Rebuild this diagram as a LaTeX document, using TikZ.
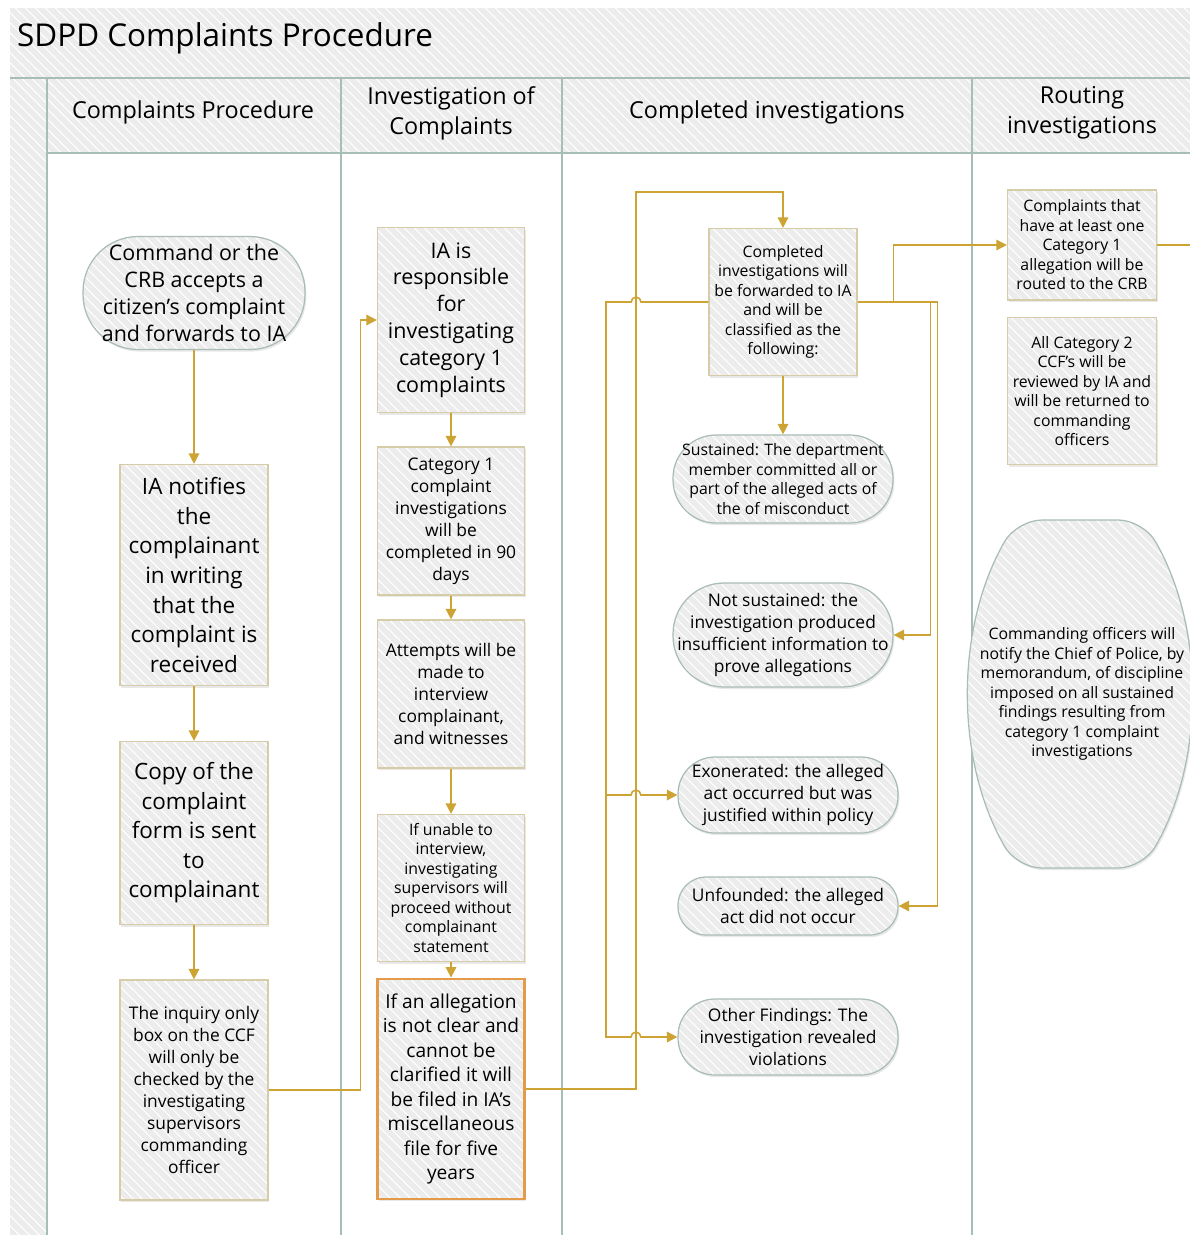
\documentclass[tikz,border=0pt]{standalone}
\usepackage{fontspec}
\setmainfont{Open Sans}
\usetikzlibrary{arrows.meta,shadows,patterns.meta}

\definecolor{flowgold}{HTML}{CDA434}
\definecolor{boxedge}{HTML}{D6CCA8}
\definecolor{ovaledge}{HTML}{A9BCB5}
\definecolor{lanegray}{HTML}{A7BDB7}
\definecolor{cellfill}{HTML}{ECECEC}
\definecolor{alertedge}{HTML}{E39B4B}

\tikzset{
  hatch/.style={preaction={fill=cellfill},
    pattern={Lines[angle=-45,distance=4pt,line width=0.6pt]}, pattern color=white},
  shade/.style={drop shadow={opacity=0.18,shadow xshift=0.8pt,shadow yshift=-1.2pt}},
  box/.style={shade, hatch, draw=boxedge, line width=0.7pt, align=center, inner sep=1pt},
  oval/.style={shade, hatch, draw=ovaledge, line width=0.7pt, rounded corners=#1,
    align=center, inner sep=0pt},
  flow/.style={draw=flowgold, line width=0.9pt, -{Triangle[length=6pt,width=6pt]}},
  plain/.style={draw=flowgold, line width=0.9pt},
  lane/.style={draw=lanegray, line width=0.8pt},
  head/.style={font=\fontsize{13.3}{17}\selectfont, align=center},
  big/.style={font=\fontsize{12.8}{16.8}\selectfont},
  mid/.style={font=\fontsize{12.2}{15.3}\selectfont},
  med/.style={font=\fontsize{10.9}{13.9}\selectfont},
  small/.style={font=\fontsize{9.9}{12.5}\selectfont},
  tiny/.style={font=\fontsize{9}{11.1}\selectfont}
}

\begin{document}
\begin{tikzpicture}[x=0.02cm,y=-0.02cm]
\useasboundingbox (0,0) rectangle (1190,1235);

%pool
\path[hatch] (10,8) rectangle (1190,78);
\path[hatch] (47,78) rectangle (1190,153);
\path[hatch] (10,78) rectangle (47,1235);
\draw[lane] (10,78) -- (1190,78);
\draw[lane] (47,153) -- (1190,153);
\draw[lane] (47,78) -- (47,1235);
\draw[lane] (341,78) -- (341,1235);
\draw[lane] (562,78) -- (562,1235);
\draw[lane, line width=1.3pt] (972,78) -- (972,1235);

\node[anchor=west, font=\fontsize{17.9}{22}\selectfont] at (11,38) (title) {SDPD Complaints Procedure};
\node[head] at (193,112) (hdA) {Complaints Procedure};
\node[head] at (451,113) (hdB) {Investigation of\\Complaints};
\node[head] at (767,112) (hdC) {Completed investigations};
\node[head] at (1082,113) (hdD) {Routing\\investigations};

%lane 1
\node[oval=1.1cm, mid, minimum width=4.44cm, minimum height=2.26cm] at (194,293) (command) {Command or the\\CRB accepts a\\citizen’s complaint\\and forwards to IA};
\node[box, big, minimum width=2.96cm, minimum height=4.42cm] at (194,575) (notify) {IA notifies\\the\\complainant\\in writing\\that the\\complaint is\\received};
\node[box, big, minimum width=2.96cm, minimum height=3.66cm] at (194,833) (copy) {Copy of the\\complaint\\form is sent\\to\\complainant};
\node[box, small, minimum width=2.96cm, minimum height=4.40cm] at (194,1090) (inquiry) {The inquiry only\\box on the CCF\\will only be\\checked by the\\investigating\\supervisors\\commanding\\officer};

%lane 2
\node[box, mid, minimum width=2.94cm, minimum height=3.70cm] at (451,320) (iaresp) {IA is\\responsible\\for\\investigating\\category 1\\complaints};
\node[box, small, minimum width=2.94cm, minimum height=2.96cm] at (451,521) (cat1) {Category 1\\complaint\\investigations\\will be\\completed in 90\\days};
\node[box, small, minimum width=2.94cm, minimum height=2.96cm] at (451,694) (attempts) {Attempts will be\\made to\\interview\\complainant,\\and witnesses};
\node[box, tiny, minimum width=2.94cm, minimum height=2.94cm] at (451,888) (unable) {If unable to\\interview,\\investigating\\supervisors will\\proceed without\\complainant\\statement};
\node[box, med, draw=alertedge, line width=1.6pt, minimum width=2.94cm, minimum height=4.40cm] at (451,1089) (misc) {If an allegation\\is not clear and\\cannot be\\clarified it will\\be filed in IA’s\\miscellaneous\\file for five\\years};

%lane 3
\node[box, tiny, minimum width=2.96cm, minimum height=2.94cm] at (783,302) (completed) {Completed\\investigations will\\be forwarded to IA\\and will be\\classified as the\\following:};
\node[oval=0.86cm, tiny, minimum width=4.40cm, minimum height=1.76cm] at (783,479) (sustained) {Sustained: The department\\member committed all or\\part of the alleged acts of\\the of misconduct};
\node[oval=1.02cm, small, minimum width=4.40cm, minimum height=2.08cm] at (783,635) (notsus) {Not sustained: the\\investigation produced\\insufficient information to\\prove allegations};
\node[oval=0.74cm, small, minimum width=4.40cm, minimum height=1.52cm] at (788,795) (exon) {Exonerated: the alleged\\act occurred but was\\justified within policy};
\node[oval=0.56cm, small, minimum width=4.40cm, minimum height=1.16cm] at (788,906) (unfound) {Unfounded: the alleged\\act did not occur};
\node[oval=0.74cm, small, minimum width=4.40cm, minimum height=1.52cm] at (788,1037) (other) {Other Findings: The\\investigation revealed\\violations};

%lane 4
\node[box, tiny, minimum width=2.98cm, minimum height=2.20cm] at (1082,245) (route) {Complaints that\\have at least one\\Category 1\\allegation will be\\routed to the CRB};
\node[box, tiny, minimum width=2.98cm, minimum height=2.94cm] at (1082,391) (cat2) {All Category 2\\CCF’s will be\\reviewed by IA and\\will be returned to\\commanding\\officers};
\path[shade, hatch, draw=ovaledge, line width=0.7pt, rounded corners=14pt]
  (1080,520) -- (1143,520) arc[start angle=30,end angle=-30,radius=6.96cm]
  -- (1017,868) arc[start angle=210,end angle=150,radius=6.96cm] -- cycle;
\node[tiny, align=center] at (1082,694) (chief) {Commanding officers will\\notify the Chief of Police, by\\memorandum, of discipline\\imposed on all sustained\\findings resulting from\\category 1 complaint\\investigations};

%arrows lane 1 and 2
\draw[flow] (command) -- (notify);
\draw[flow] (notify) -- (copy);
\draw[flow] (copy) -- (inquiry);
\draw[flow] (inquiry.east) -- ++(92,0) |- (iaresp.west);
\draw[flow] (iaresp) -- (cat1);
\draw[flow] (cat1) -- (attempts);
\draw[flow] (attempts) -- (unable);
\draw[flow] (unable) -- (misc);

%to completed
\coordinate (topbend) at (636,192);
\draw[flow] (misc.east) -| (topbend) -| (completed.north);

%left bus
\coordinate (splitL) at (606,795);
\draw[flow] (completed.west) -- (641,302) arc[start angle=0,end angle=180,radius=2.8pt]
  -- (606,302) -- (606,1037) -- (631,1037) arc[start angle=180,end angle=0,radius=2.8pt]
  -- (other.west);
\draw[flow] (splitL) -- (631,795) arc[start angle=180,end angle=0,radius=2.8pt] -- (exon.west);
\draw[flow] (completed) -- (sustained);

%right bus
\draw[flow] (completed.east) -- ++(73,0) |- (notsus.east);
\draw[flow] (completed.east) -- ++(80,0) |- (unfound.east);
\draw[flow] (completed.east) -- ++(36,0) |- (route.west);
\coordinate (offpage) at (1190,245);
\draw[plain] (route.east) -- (offpage);

\end{tikzpicture}
\end{document}
